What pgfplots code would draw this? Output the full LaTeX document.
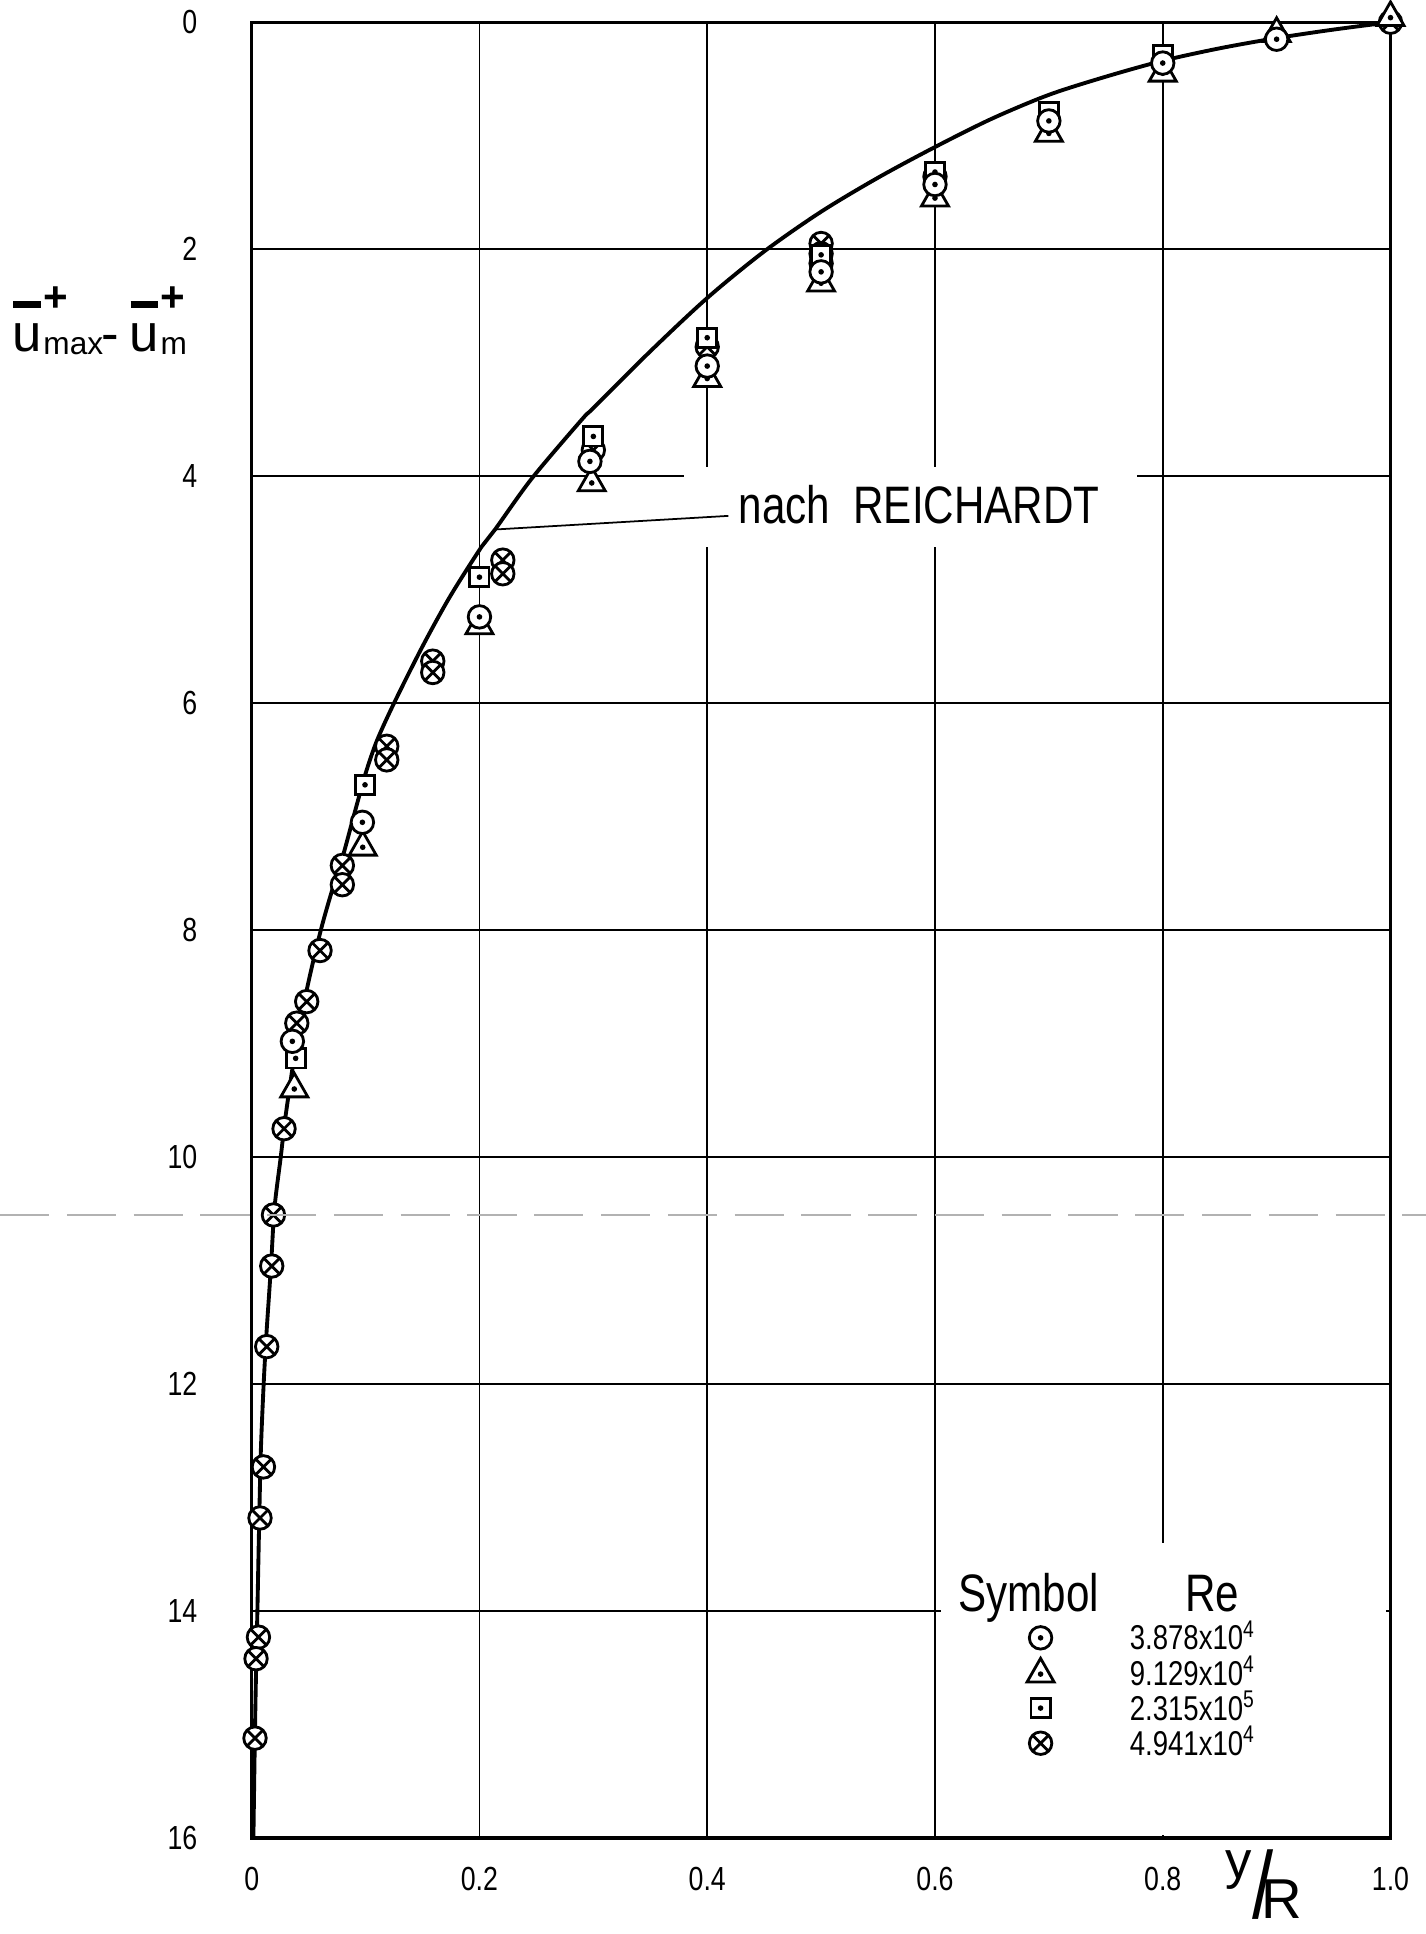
\documentclass[border=0pt]{standalone}
\usepackage{fontspec}
\setmainfont{Liberation Sans}[FakeStretch=0.8]
\newfontfamily\plainsans{Liberation Sans}
\usepackage{pgfplots}
\pgfplotsset{compat=1.18}

\pgfdeclareplotmark{mcirc}{%
  \pgfsetfillcolor{white}%
  \pgfpathcircle{\pgfpointorigin}{\pgfplotmarksize}%
  \pgfusepathqfillstroke
  \pgfsetfillcolor{black}%
  \pgfpathcircle{\pgfpointorigin}{0.8pt}%
  \pgfusepathqfill}
\pgfdeclareplotmark{mtri}{%
  \pgfsetfillcolor{white}%
  \pgfpathmoveto{\pgfqpoint{0pt}{1.3\pgfplotmarksize}}%
  \pgfpathlineto{\pgfqpoint{-1.2\pgfplotmarksize}{-0.8\pgfplotmarksize}}%
  \pgfpathlineto{\pgfqpoint{1.2\pgfplotmarksize}{-0.8\pgfplotmarksize}}%
  \pgfpathclose
  \pgfusepathqfillstroke
  \pgfsetfillcolor{black}%
  \pgfpathcircle{\pgfqpoint{0pt}{-0.1\pgfplotmarksize}}{0.8pt}%
  \pgfusepathqfill}
\pgfdeclareplotmark{msq}{%
  \pgfsetfillcolor{white}%
  \pgfpathrectangle{\pgfqpoint{-0.85\pgfplotmarksize}{-0.85\pgfplotmarksize}}{\pgfqpoint{1.7\pgfplotmarksize}{1.7\pgfplotmarksize}}%
  \pgfusepathqfillstroke
  \pgfsetfillcolor{black}%
  \pgfpathcircle{\pgfpointorigin}{0.8pt}%
  \pgfusepathqfill}
\pgfdeclareplotmark{mox}{%
  \pgfsetfillcolor{white}%
  \pgfpathcircle{\pgfpointorigin}{\pgfplotmarksize}%
  \pgfusepathqfillstroke
  \pgfpathmoveto{\pgfqpoint{-0.707\pgfplotmarksize}{-0.707\pgfplotmarksize}}%
  \pgfpathlineto{\pgfqpoint{0.707\pgfplotmarksize}{0.707\pgfplotmarksize}}%
  \pgfpathmoveto{\pgfqpoint{-0.707\pgfplotmarksize}{0.707\pgfplotmarksize}}%
  \pgfpathlineto{\pgfqpoint{0.707\pgfplotmarksize}{-0.707\pgfplotmarksize}}%
  \pgfusepathqstroke}

\newcommand\ubar{\rlap{\kern0.02em\rule[0.84em]{0.52em}{0.12em}}u}

\begin{document}
\begin{tikzpicture}
\useasboundingbox (-2.517,-0.96) rectangle (11.743,18.38);
\begin{axis}[
  scale only axis, width=11.388cm, height=18.158cm,
  xmin=0, xmax=1, ymin=0, ymax=16, y dir=reverse,
  xtick={0,0.2,0.4,0.6,0.8,1},
  ytick={0,2,4,6,8,10,12,14,16},
  xticklabels={0,0.2,0.4,0.6,0.8,1.0},
  yticklabels={0,2,4,6,8,10,12,14,16},
  major tick length=0pt,
  grid=major, major grid style={black, line width=0.45pt},
  axis line style={line width=0.9pt},
  tick label style={font=\fontsize{9.5}{10}\selectfont},
  yticklabel style={xshift=-0.42cm},
  xticklabel style={yshift=-0.17cm},
  clip=false,
  mark size=3.2pt,
  legend cell align=left,
  legend style={at={(axis cs:0.671,14.0)}, anchor=north west, draw=none, fill=none,
    column sep=0.74cm, row sep=-0.03cm,
    nodes={inner sep=0.5pt},
    font=\fontsize{9.8}{10}\selectfont},
]
% white areas where the grid is interrupted
\fill[white] (axis cs:0.38,3.92) rectangle (axis cs:0.777,4.62);
\fill[white] (axis cs:0.605,13.4) rectangle (axis cs:0.996,15.97);

% curve nach Reichardt
\addplot[black, line width=1.1pt, smooth, tension=0.5, forget plot] coordinates {
(0.0015,16) (0.0025,15.3) (0.0035,14.7) (0.005,14.0) (0.0065,13.25) (0.008,12.6)
(0.0105,12.0) (0.013,11.55) (0.017,10.95) (0.02,10.45) (0.0255,10.0) (0.03,9.62)
(0.04,8.95) (0.05,8.45) (0.0607,8.0) (0.07,7.67) (0.08,7.35) (0.09,6.98) (0.1,6.62)
(0.11,6.33) (0.125,6.0) (0.15,5.5) (0.1742,5.06) (0.202,4.62) (0.2137,4.47)
(0.246,4.02) (0.29,3.5) (0.3,3.4) (0.35,2.9) (0.4,2.43) (0.45,2.02) (0.5,1.67)
(0.55,1.37) (0.6,1.1) (0.65,0.85) (0.7,0.64) (0.75,0.48) (0.8,0.34) (0.85,0.23)
(0.9,0.14) (0.95,0.065) (1.0,0)};

% Re = 4.941e4
\addplot[only marks, mark=mox, line width=0.8pt, forget plot] coordinates {
(1.0,0) (0.6,1.36) (0.5,1.95) (0.5,2.04) (0.5,2.125) (0.4,2.86) (0.3,3.77)
(0.2205,4.74) (0.2205,4.86) (0.159,5.63) (0.159,5.73) (0.1186,6.38) (0.1186,6.5)
(0.0796,7.43) (0.0796,7.6) (0.06,8.18) (0.0483,8.63) (0.0396,8.82) (0.0284,9.75)
(0.0191,10.51) (0.0176,10.96) (0.0132,11.67) (0.0103,12.73) (0.0073,13.18)
(0.0059,14.23) (0.0038,14.42) (0.0029,15.12)};
% Re = 2.315e5
\addplot[only marks, mark=msq, line width=0.8pt, forget plot] coordinates {
(0.8,0.29) (0.7,0.79) (0.6,1.32) (0.5,2.05) (0.4,2.78) (0.3,3.65) (0.2,4.89)
(0.0995,6.72) (0.0386,9.13)};
% Re = 9.129e4
\addplot[only marks, mark=mtri, line width=0.8pt, forget plot] coordinates {
(1.0,-0.05) (0.9,0.09) (0.8,0.44) (0.7,0.97) (0.6,1.54) (0.5,2.29) (0.4,3.13)
(0.2986,4.05) (0.2,5.31) (0.0975,7.26) (0.0374,9.39)};
% Re = 3.878e4
\addplot[only marks, mark=mcirc, line width=0.8pt, forget plot] coordinates {
(0.9,0.15) (0.8,0.36) (0.7,0.87) (0.6,1.43) (0.5,2.2) (0.4,3.03) (0.297,3.87)
(0.2,5.24) (0.0972,7.05) (0.0357,8.98)};

\addlegendimage{only marks, mark=mcirc, line width=0.8pt}
\addlegendentry{3.878x10\textsuperscript{4}}
\addlegendimage{only marks, mark=mtri, line width=0.8pt}
\addlegendentry{9.129x10\textsuperscript{4}}
\addlegendimage{only marks, mark=msq, line width=0.8pt}
\addlegendentry{2.315x10\textsuperscript{5}}
\addlegendimage{only marks, mark=mox, line width=0.8pt}
\addlegendentry{4.941x10\textsuperscript{4}}

% label of the curve
\draw[line width=0.5pt] (axis cs:0.2137,4.47) -- (axis cs:0.4186,4.35);
\node[anchor=base west, inner sep=0pt, font=\fontsize{15}{15}\selectfont] at (axis cs:0.427,4.42) {nach\ \ REICHARDT};

% legend header
\node[anchor=base west, inner sep=0pt, font=\fontsize{15}{15}\selectfont] at (axis cs:0.62,14.0) {Symbol};
\node[anchor=base west, inner sep=0pt, font=\fontsize{15}{15}\selectfont] at (axis cs:0.819,14.0) {Re};
\end{axis}

% y label
\node[anchor=base west, inner sep=0pt] at (-2.40,14.86) {\plainsans\fontsize{15}{15}\selectfont
  \ubar\kern0.5pt\rlap{\raisebox{11.5pt}{\fontsize{12}{12}\selectfont\bfseries +}}\raisebox{-0.8pt}{\fontsize{9}{9}\selectfont max}\kern-0.5pt-\kern3pt\ubar\kern0.5pt\rlap{\raisebox{11.5pt}{\fontsize{12}{12}\selectfont\bfseries +}}\raisebox{-0.8pt}{\fontsize{9}{9}\selectfont m}};

% x label y/R
\node[anchor=base, inner sep=0pt] at (9.87,-0.40) {\plainsans\fontsize{15}{15}\selectfont y};
\node[anchor=center, inner sep=0pt] at (10.11,-0.47) {\fontsize{27}{27}\selectfont /};
\node[anchor=base, inner sep=0pt] at (10.30,-0.80) {\plainsans\fontsize{16}{16}\selectfont R};

% fold line of the scanned sheet
\draw[gray!60, line width=0.7pt, dash pattern=on 14pt off 5pt] (-2.517,6.23) -- (11.743,6.23);
\end{tikzpicture}
\end{document}
